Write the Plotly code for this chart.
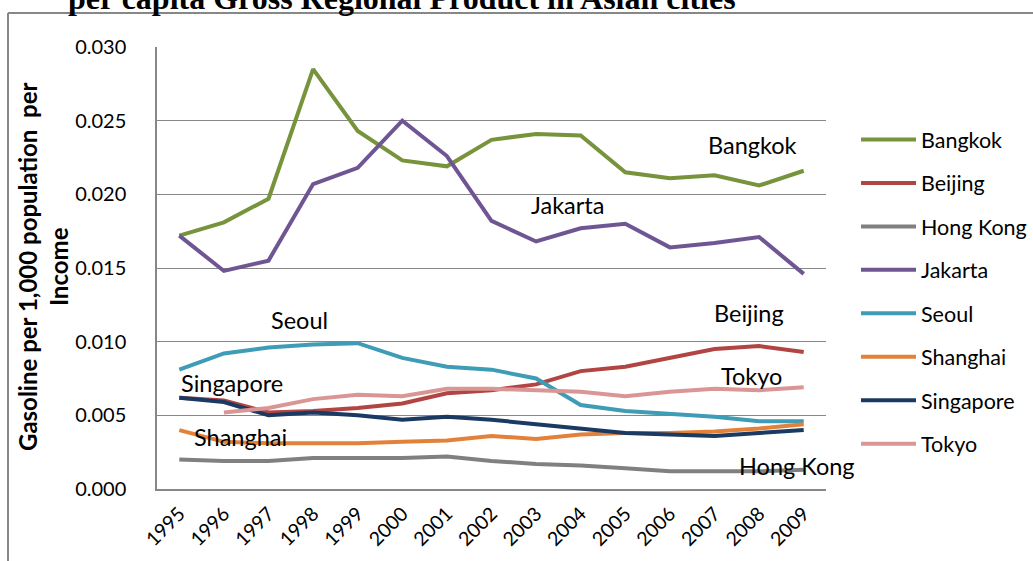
import plotly.graph_objects as go

years = [str(y) for y in range(1995, 2010)]

bangkok = [0.0172, 0.0181, 0.0197, 0.0285, 0.0243, 0.0223, 0.0219, 0.0237, 0.0241, 0.0240, 0.0215, 0.0211, 0.0213, 0.0206, 0.0216]
beijing = [0.0062, 0.0060, 0.0052, 0.0053, 0.0055, 0.0058, 0.0065, 0.0067, 0.0071, 0.0080, 0.0083, 0.0089, 0.0095, 0.0097, 0.0093]
hongkong = [0.0020, 0.0019, 0.0019, 0.0021, 0.0021, 0.0021, 0.0022, 0.0019, 0.0017, 0.0016, 0.0014, 0.0012, 0.0012, 0.0012, 0.0013]
jakarta = [0.0172, 0.0148, 0.0155, 0.0207, 0.0218, 0.0250, 0.0226, 0.0182, 0.0168, 0.0177, 0.0180, 0.0164, 0.0167, 0.0171, 0.0146]
seoul = [0.0081, 0.0092, 0.0096, 0.0098, 0.0099, 0.0089, 0.0083, 0.0081, 0.0075, 0.0057, 0.0053, 0.0051, 0.0049, 0.0046, 0.0046]
shanghai = [0.0040, 0.0032, 0.0031, 0.0031, 0.0031, 0.0032, 0.0033, 0.0036, 0.0034, 0.0037, 0.0038, 0.0038, 0.0039, 0.0041, 0.0044]
singapore = [0.0062, 0.0059, 0.0050, 0.0052, 0.0050, 0.0047, 0.0049, 0.0047, 0.0044, 0.0041, 0.0038, 0.0037, 0.0036, 0.0038, 0.0040]
tokyo = [None, 0.0052, 0.0055, 0.0061, 0.0064, 0.0063, 0.0068, 0.0068, 0.0067, 0.0066, 0.0063, 0.0066, 0.0068, 0.0067, 0.0069]

series_names = ["Bangkok", "Beijing", "Hong Kong", "Jakarta", "Seoul", "Shanghai", "Singapore", "Tokyo"]
series_values = [bangkok, beijing, hongkong, jakarta, seoul, shanghai, singapore, tokyo]
series_colors = ["#77933C", "#B04543", "#808080", "#6F5693", "#3E9CB6", "#E2823A", "#1B3A63", "#D99694"]

y_ticks = [0.0, 0.005, 0.010, 0.015, 0.020, 0.025, 0.030]
y_tick_labels = ["0.000", "0.005", "0.010", "0.015", "0.020", "0.025", "0.030"]

# in-chart labels: (text, centre x px, centre y px)
labels = [("Bangkok", 752, 145), ("Jakarta", 567, 205), ("Seoul", 299, 320),
          ("Singapore", 232, 383), ("Shanghai", 240, 437), ("Beijing", 749, 313),
          ("Tokyo", 751, 376), ("Hong Kong", 797, 466)]

W, H = 1033, 561
L, R, T, B = 157, 826, 47, 489


def px(x):
    return (x - L) / (R - L)


def py(y):
    return (B - y) / (B - T)


FONT = "Lato, 'Open Sans', sans-serif"
GRID = "#878787"

fig = go.Figure()
for name, vals, col in zip(series_names, series_values, series_colors):
    fig.add_trace(go.Scatter(x=years, y=vals, name=name, mode="lines",
                             line=dict(color=col, width=4), legendgroup=name))

for text, cx, cy in labels:
    fig.add_annotation(text=text, x=px(cx), y=py(cy), xref="paper", yref="paper",
                       showarrow=False, xanchor="center", yanchor="middle",
                       font=dict(family=FONT, size=23.5, color="#000000"))

fig.add_annotation(text="<b>Gasoline per 1,000 population  per<br>Income</b>",
                   x=px(43), y=py(267), xref="paper", yref="paper", showarrow=False,
                   textangle=-90, xanchor="center", yanchor="middle",
                   font=dict(family=FONT, size=24, color="#000000"))

fig.add_annotation(text="<b>per capita Gross Regional Product in Asian cities</b>",
                   x=px(66), y=py(18.5), xref="paper", yref="paper", showarrow=False,
                   xanchor="left", yanchor="bottom",
                   font=dict(family="'Liberation Serif', 'Times New Roman', serif", size=32, color="#000000"))

# outer chart border
fig.add_shape(type="line", xref="paper", yref="paper", x0=px(8), x1=px(1040), y0=py(13), y1=py(13),
              line=dict(color=GRID, width=2))
fig.add_shape(type="line", xref="paper", yref="paper", x0=px(8), x1=px(8), y0=py(13), y1=py(570),
              line=dict(color=GRID, width=2))

fig.update_layout(
    width=W, height=H,
    margin=dict(l=L, r=W - R, t=T, b=H - B, autoexpand=False),
    paper_bgcolor="white", plot_bgcolor="white",
    font=dict(family=FONT, size=20, color="#000000"),
    showlegend=True,
    legend=dict(x=px(856), y=py(119), xanchor="left", yanchor="top",
                font=dict(family=FONT, size=21.5), tracegroupgap=12.5, itemwidth=55,
                bgcolor="rgba(0,0,0,0)"),
    xaxis=dict(type="category", range=[-0.5, 14.5], showgrid=False, showline=True,
               linecolor=GRID, linewidth=1.5, tickangle=-45, ticks="",
               tickfont=dict(size=19.5), ticklabelstandoff=4),
    yaxis=dict(range=[0, 0.030], tickvals=y_ticks, ticktext=y_tick_labels, showgrid=True,
               gridcolor=GRID, gridwidth=1.2, showline=True, linecolor=GRID, linewidth=1.5,
               zeroline=False, ticks="", ticklabelstandoff=25),
)

fig.write_html("out.html", config={"displayModeBar": False},
               post_script="document.body.style.margin='0';")
